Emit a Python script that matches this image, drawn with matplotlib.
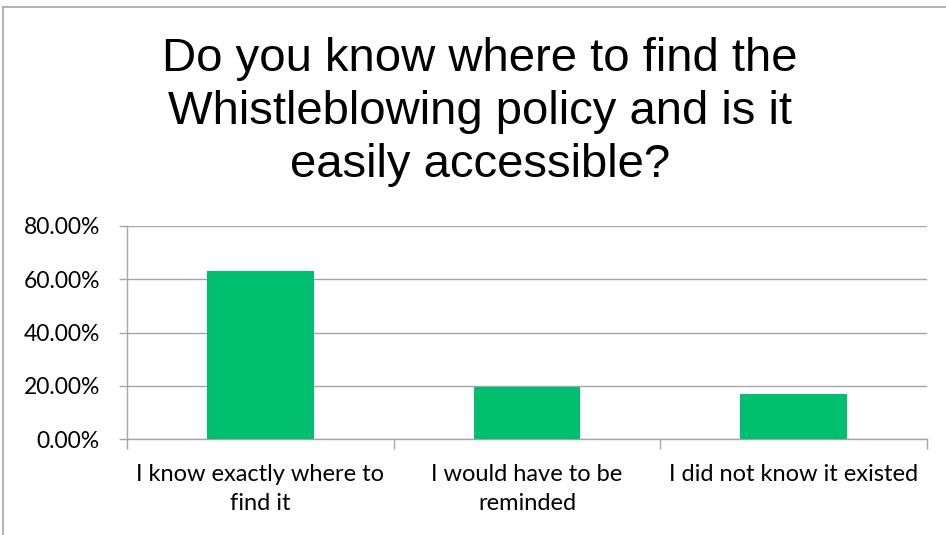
import numpy as np
import matplotlib.pyplot as plt
from matplotlib.ticker import FuncFormatter, FixedLocator

# Survey responses (share of respondents)
categories = ["I know exactly where to\nfind it",
              "I would have to be\nreminded",
              "I did not know it existed"]
shares = [0.632, 0.194, 0.169]
y_ticks = [0.0, 0.2, 0.4, 0.6, 0.8]

title = "Do you know where to find the\nWhistleblowing policy and is it\neasily accessible?"

bar_color = "#00BF6F"
line_color = "#A6A6A6"
label_font = ["Lato", "DejaVu Sans"]

fig = plt.figure(figsize=(9.46, 5.35), dpi=100)
ax = fig.add_axes([127 / 946, (535 - 439) / 535, 800 / 946, 213 / 535])

x = np.arange(len(categories))
ax.bar(x, shares, width=0.4, color=bar_color, zorder=3)

ax.set_xlim(-0.5, len(categories) - 0.5)
ax.set_ylim(0, 0.8)
ax.yaxis.set_major_locator(FixedLocator(y_ticks))
ax.yaxis.set_major_formatter(FuncFormatter(lambda v, _: f"{v * 100:.2f}%"))
ax.grid(axis="y", color=line_color, linewidth=1.0, zorder=0)

# category labels centred, ticks on category boundaries
ax.set_xticks(x)
ax.set_xticklabels(categories, fontfamily=label_font, fontsize=17, linespacing=1.45)
ax.xaxis.set_minor_locator(FixedLocator(np.arange(-0.5, len(categories), 1.0)))
ax.tick_params(axis="x", which="major", length=0, pad=18)
ax.tick_params(axis="x", which="minor", length=7, color=line_color, width=1)
ax.tick_params(axis="y", length=6, color=line_color, width=1, pad=13.5,
               labelsize=16.5)
for lab in ax.get_yticklabels():
    lab.set_fontfamily(label_font)

for side in ["top", "right"]:
    ax.spines[side].set_visible(False)
for side in ["left", "bottom"]:
    ax.spines[side].set_color(line_color)
    ax.spines[side].set_linewidth(1.0)

fig.text(480 / 946, 1 - 37 / 535, title, ha="center", va="top",
         fontfamily="Liberation Sans", fontsize=34, linespacing=1.27)

# outer chart frame (top and left edges)
fig.add_artist(plt.Line2D([3 / 946, 1], [1 - 7 / 535, 1 - 7 / 535],
                          transform=fig.transFigure, color=line_color, linewidth=1.2))
fig.add_artist(plt.Line2D([3 / 946, 3 / 946], [0, 1 - 7 / 535],
                          transform=fig.transFigure, color=line_color, linewidth=1.2))

fig.savefig("out.png", dpi=100)
